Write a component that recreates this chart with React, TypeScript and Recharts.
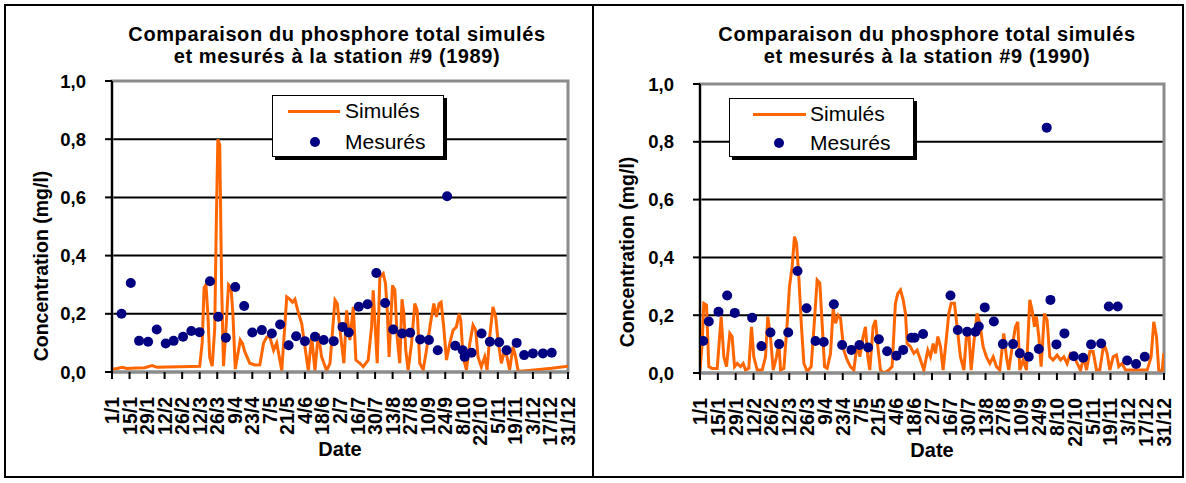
import { ComposedChart, Line, Scatter, XAxis, YAxis, CartesianGrid, ReferenceArea } from 'recharts';

// day-of-year ticks every 14 days, labels as printed on the axis
const TICK_DAYS = [1, 15, 29, 43, 57, 71, 85, 99, 113, 127, 141, 155, 169, 183, 197, 211, 225, 239, 253, 267, 281, 295, 309, 323, 337, 351, 365];
const TICK_LABELS = ['1/1', '15/1', '29/1', '12/2', '26/2', '12/3', '26/3', '9/4', '23/4', '7/5', '21/5', '4/6', '18/6', '2/7', '16/7', '30/7', '13/8', '27/8', '10/9', '24/9', '8/10', '22/10', '5/11', '19/11', '3/12', '17/12', '31/12'];
const Y_TICKS = [0, 0.2, 0.4, 0.6, 0.8, 1];

// 1989 - simulated (line)
const SIM_1989_DAYS = [1, 5, 9, 13, 20, 27, 33, 37, 45, 55, 65, 71, 73, 74.5, 76, 77.5, 79, 81, 83, 84.3, 85.5, 87, 88.5, 90, 92, 94, 96, 97.5, 99.4, 101, 103.4, 105, 107, 111, 115, 119, 122, 124.5, 127, 130, 132.5, 136.5, 140.5, 143, 145, 147, 150, 152.4, 155, 157.7, 160.4, 163, 165.7, 168.3, 172.3, 175, 179, 180.8, 183, 186.1, 188.3, 190.9, 193.6, 195.7, 198.9, 201.5, 205.5, 208.2, 209.5, 210.8, 212.7, 214.8, 217.5, 219.3, 220.7, 222.2, 224.9, 226.8, 228.6, 230.7, 232.5, 234, 235.5, 237.4, 240.1, 242.7, 244.6, 246.7, 249.4, 252, 255.2, 257.9, 260, 262.1, 263.7, 265.8, 268, 270.6, 273.3, 275.9, 278.1, 279.4, 281.2, 283.9, 286.6, 289.2, 291.3, 293.2, 295.8, 298.5, 300.4, 302.5, 305.1, 307.3, 309.1, 311.8, 314.4, 316.3, 318.4, 321.1, 323.2, 325.1, 327, 340, 352, 365];
const SIM_1989_VALUES = [0.01, 0.012, 0.016, 0.012, 0.014, 0.015, 0.022, 0.016, 0.017, 0.018, 0.019, 0.02, 0.1, 0.29, 0.3, 0.2, 0.05, 0.02, 0.15, 0.52, 0.8, 0.78, 0.3, 0.02, 0.15, 0.3, 0.29, 0.2, 0.01, 0.05, 0.11, 0.1, 0.07, 0.03, 0.024, 0.025, 0.1, 0.12, 0.12, 0.075, 0.1, 0.005, 0.258, 0.25, 0.24, 0.25, 0.2, 0.167, 0.087, 0.005, 0.121, 0.005, 0.132, 0.052, 0.005, 0.03, 0.247, 0.235, 0.144, 0.03, 0.212, 0.11, 0.224, 0.041, 0.03, 0.018, 0.041, 0.155, 0.281, 0.178, 0.03, 0.326, 0.338, 0.304, 0.212, 0.052, 0.298, 0.281, 0.121, 0.03, 0.25, 0.2, 0.075, 0.007, 0.098, 0.235, 0.212, 0.03, 0.007, 0.075, 0.167, 0.235, 0.189, 0.235, 0.24, 0.155, 0.041, 0.098, 0.144, 0.155, 0.2, 0.178, 0.052, 0.007, 0.098, 0.161, 0.144, 0.052, 0.018, 0.052, 0.007, 0.121, 0.224, 0.189, 0.11, 0.03, 0.075, 0.052, 0.007, 0.087, 0.052, 0.005, 0.003, 0.008, 0.013, 0.02];

// 1989 - measured (points)
const MES_1989_DAYS = [8.6, 16, 22.6, 29.8, 36.7, 43.9, 50.2, 57.7, 64.3, 70.9, 79.2, 85.8, 91.9, 99.4, 106.5, 113, 120.6, 128.6, 135.2, 142, 148, 155, 163, 170, 178, 185, 190, 198, 205, 212, 219, 225.5, 232.6, 239, 247, 254, 261, 268.5, 275, 281, 282.5, 288, 296, 302.6, 310, 316, 324, 330, 337, 345, 352];
const MES_1989_VALUES = [0.2, 0.306, 0.107, 0.104, 0.146, 0.098, 0.107, 0.121, 0.141, 0.137, 0.312, 0.19, 0.118, 0.292, 0.227, 0.136, 0.144, 0.132, 0.163, 0.092, 0.123, 0.106, 0.121, 0.11, 0.106, 0.155, 0.136, 0.224, 0.233, 0.34, 0.237, 0.146, 0.132, 0.135, 0.112, 0.11, 0.075, 0.604, 0.09, 0.075, 0.052, 0.066, 0.132, 0.104, 0.102, 0.075, 0.1, 0.058, 0.064, 0.064, 0.066];

// 1990 - simulated (line)
const SIM_1990_DAYS = [1, 2.7, 4, 6.1, 7.9, 10.5, 14.5, 17.6, 19.7, 21.8, 24.4, 26.2, 28.1, 30.2, 32.8, 34.9, 36.7, 39.3, 41.4, 43.2, 45.9, 49.8, 52.4, 54.2, 56.3, 58.4, 61, 62.9, 64.2, 66.8, 69.4, 71.2, 73.3, 75.1, 76.7, 78.5, 80.6, 82.5, 85.1, 88.2, 90.8, 92.9, 95, 96.8, 98.7, 100.8, 103.4, 105.5, 107.3, 109.4, 111.2, 113.8, 116.4, 119, 121.7, 124.3, 126.4, 129, 130.8, 132.6, 134.2, 136.8, 138.7, 140.5, 142.6, 145.2, 149.1, 151.7, 154.3, 156.2, 158.3, 160.4, 162.2, 163.5, 166.1, 168.7, 171.3, 174, 176.6, 179.7, 181.8, 183.9, 185.7, 187.6, 189.7, 191.7, 194.4, 196.2, 198, 200.6, 202.7, 205.3, 208, 210, 211.9, 213.7, 216.3, 218.4, 220.5, 223.1, 225.7, 228.4, 231, 233.6, 236.2, 239.3, 241.4, 243.2, 245.9, 248.5, 250.3, 251.9, 254.5, 257.1, 259.7, 261.5, 263.4, 264.9, 266.8, 268.6, 271.2, 273.3, 275.4, 278, 281.2, 283.8, 286.4, 289, 291.6, 294.2, 296.9, 299.5, 302.1, 304.2, 306.8, 309.4, 312, 314.6, 317.8, 320.4, 322.5, 325.1, 327.7, 329.5, 332.1, 334.8, 341, 346.5, 351.8, 354.9, 357, 359.1, 360.9, 363.5, 364.8];
const SIM_1990_VALUES = [0.01, 0.102, 0.241, 0.235, 0.022, 0.016, 0.016, 0.195, 0.056, 0.022, 0.137, 0.126, 0.022, 0.033, 0.022, 0.033, 0.01, 0.016, 0.16, 0.056, 0.01, 0.01, 0.056, 0.195, 0.126, 0.01, 0.056, 0.102, 0.01, 0.016, 0.172, 0.299, 0.368, 0.472, 0.449, 0.334, 0.16, 0.033, 0.005, 0.022, 0.183, 0.322, 0.311, 0.172, 0.022, 0.016, 0.068, 0.224, 0.172, 0.2, 0.19, 0.079, 0.045, 0.022, 0.01, 0.102, 0.056, 0.126, 0.16, 0.056, 0.01, 0.16, 0.183, 0.091, 0.01, 0.0, 0.01, 0.022, 0.241, 0.275, 0.287, 0.253, 0.206, 0.102, 0.091, 0.068, 0.079, 0.045, 0.01, 0.079, 0.056, 0.102, 0.068, 0.126, 0.091, 0.01, 0.126, 0.206, 0.241, 0.241, 0.16, 0.056, 0.01, 0.126, 0.137, 0.01, 0.126, 0.206, 0.172, 0.091, 0.056, 0.033, 0.056, 0.022, 0.01, 0.137, 0.056, 0.01, 0.091, 0.16, 0.177, 0.01, 0.045, 0.01, 0.253, 0.218, 0.16, 0.195, 0.126, 0.022, 0.206, 0.183, 0.056, 0.045, 0.062, 0.045, 0.056, 0.033, 0.068, 0.062, 0.033, 0.01, 0.056, 0.01, 0.074, 0.074, 0.01, 0.01, 0.102, 0.068, 0.01, 0.056, 0.062, 0.022, 0.033, 0.01, 0.01, 0.01, 0.01, 0.056, 0.177, 0.126, 0.01, 0.005, 0.068];

// 1990 - measured (points)
const MES_1990_DAYS = [3.5, 7.9, 15.5, 22.3, 28.3, 41.9, 49.2, 56.3, 63.1, 70.2, 77.5, 84.6, 91.6, 98.1, 106, 112.5, 119.8, 126.1, 132.9, 141.3, 147.8, 155.1, 160.4, 166.9, 169.3, 176, 197.5, 203.2, 210.6, 217.1, 219.7, 224.4, 231.5, 238.6, 246.6, 251.9, 258.9, 266.8, 273, 275.9, 280.6, 286.9, 294.2, 301.6, 307.8, 315.7, 321.7, 328.7, 336.1, 343.1, 349.9];
const MES_1990_VALUES = [0.111, 0.178, 0.212, 0.268, 0.208, 0.191, 0.093, 0.14, 0.1, 0.14, 0.353, 0.224, 0.111, 0.107, 0.238, 0.097, 0.08, 0.097, 0.088, 0.117, 0.075, 0.06, 0.08, 0.122, 0.122, 0.135, 0.268, 0.149, 0.143, 0.143, 0.161, 0.227, 0.178, 0.1, 0.1, 0.068, 0.056, 0.083, 0.849, 0.253, 0.099, 0.137, 0.058, 0.053, 0.099, 0.102, 0.23, 0.23, 0.043, 0.031, 0.056];

const ORANGE = '#ff6600';
const NAVY = '#000080';
const FONT = '"Liberation Sans", Arial, sans-serif';

const toRows = (days: number[], values: number[]) => days.map((d, i) => ({ day: d, value: values[i] }));
const labelOf = (day: number) => TICK_LABELS[TICK_DAYS.indexOf(day)] ?? '';
const comma = (v: number) => v.toFixed(1).replace('.', ',');

function DateTick({ x, y, payload }: any) {
  return (
    <text
      x={x}
      y={y}
      transform={`rotate(-90 ${x} ${y})`}
      textAnchor="end"
      dominantBaseline="central"
      fontFamily={FONT}
      fontWeight="bold"
      fontSize={19.5}
      fill="#000"
    >
      {labelOf(payload.value)}
    </text>
  );
}

function Dot(props: any) {
  const { cx, cy } = props;
  if (cx == null || cy == null) return null;
  return <circle cx={cx} cy={cy} r={5} fill={NAVY} />;
}

interface PanelProps {
  left: number;
  year: string;
  sim: { day: number; value: number }[];
  mes: { day: number; value: number }[];
  yAxisWidth: number;
  marginTop: number;
  marginRight: number;
  xAxisHeight: number;
  yLabelX: number;
  yLabelY: number;
  legend: { left: number; top: number; width: number; height: number; lineX: number; lineW: number; dotX: number; textX: number; row1: number; row2: number };
}

function Panel(p: PanelProps) {
  const lg = p.legend;
  return (
    <div style={{ position: 'absolute', left: p.left, top: 4, width: 589, height: 475 }}>
      <div style={{ position: 'absolute', left: 0, top: 19, width: 666, textAlign: 'center', fontFamily: FONT, fontWeight: 'bold', fontSize: 20, letterSpacing: 0.6, lineHeight: '22px', color: '#000' }}>
        Comparaison du phosphore total simulés<br />et mesurés à la station #9 ({p.year})
      </div>
      <ComposedChart width={589} height={475} margin={{ top: p.marginTop, right: p.marginRight, left: 0, bottom: 0 }}>
        <CartesianGrid horizontal vertical={false} stroke="#000" strokeWidth={2} />
        <XAxis
          dataKey="day"
          type="number"
          domain={[1, 365]}
          ticks={TICK_DAYS}
          interval={0}
          height={p.xAxisHeight}
          tick={<DateTick />}
          tickSize={7}
          tickMargin={18}
          tickLine={{ stroke: '#000', strokeWidth: 2 }}
          axisLine={{ stroke: '#8c8c8c', strokeWidth: 3 }}
          allowDataOverflow
          label={{
            content: ({ viewBox }: any) => (
              <text x={viewBox.x + viewBox.width / 2} y={viewBox.y + 84} textAnchor="middle" fontFamily={FONT} fontWeight="bold" fontSize={20} fill="#000">Date</text>
            ),
          }}
        />
        <YAxis
          type="number"
          domain={[0, 1]}
          ticks={Y_TICKS}
          width={p.yAxisWidth}
          tickFormatter={comma}
          tick={{ fill: '#000', fontFamily: FONT, fontWeight: 'bold', fontSize: 18.5 }}
          tickSize={7}
          tickMargin={19}
          tickLine={{ stroke: '#000', strokeWidth: 2 }}
          axisLine={{ stroke: '#000', strokeWidth: 2 }}
          label={{
            content: () => (
              <text x={p.yLabelX} y={p.yLabelY} transform={`rotate(-90 ${p.yLabelX} ${p.yLabelY})`} textAnchor="middle" dominantBaseline="central" fontFamily={FONT} fontWeight="bold" fontSize={19.5} fill="#000">Concentration (mg/l)</text>
            ),
          }}
        />
        <ReferenceArea x1={1} x2={365} y1={0} y2={1} fill="none" stroke="#8c8c8c" strokeWidth={3} />
        <Line data={p.sim} dataKey="value" name="Simulés" type="linear" stroke={ORANGE} strokeWidth={3} dot={false} isAnimationActive={false} />
        <Scatter data={p.mes} dataKey="value" name="Mesurés" fill={NAVY} shape={<Dot />} isAnimationActive={false} />
      </ComposedChart>
      <div style={{ position: 'absolute', left: lg.left, top: lg.top, width: lg.width, height: lg.height, border: '1px solid #000', background: '#fff', boxShadow: '3px 3px 0 #000', boxSizing: 'border-box', fontFamily: FONT, fontSize: 21, color: '#000' }}>
        <div style={{ position: 'absolute', left: lg.lineX, top: lg.row1 - 1.5, width: lg.lineW, height: 3, background: ORANGE }} />
        <div style={{ position: 'absolute', left: lg.textX, top: lg.row1 - 12, lineHeight: '24px' }}>Simulés</div>
        <div style={{ position: 'absolute', left: lg.dotX - 5, top: lg.row2 - 5, width: 10, height: 10, borderRadius: 5, background: NAVY }} />
        <div style={{ position: 'absolute', left: lg.textX, top: lg.row2 - 12, lineHeight: '24px' }}>Mesurés</div>
      </div>
    </div>
  );
}

export default function App() {
  return (
    <div style={{ position: 'absolute', left: 0, top: 0, width: 1186, height: 483, background: '#fff', overflow: 'hidden' }}>
      <div style={{ position: 'absolute', left: 4, top: 4, width: 1180, height: 474, border: '2px solid #000', boxSizing: 'border-box' }} />
      <div style={{ position: 'absolute', left: 592, top: 4, width: 2, height: 474, background: '#000' }} />
      <Panel
        left={4}
        year="1989"
        sim={toRows(SIM_1989_DAYS, SIM_1989_VALUES)}
        mes={toRows(MES_1989_DAYS, MES_1989_VALUES)}
        yAxisWidth={108}
        marginTop={77}
        marginRight={25}
        xAxisHeight={107}
        yLabelX={37}
        yLabelY={262}
        legend={{ left: 268, top: 91, width: 172, height: 62, lineX: 15, lineW: 52, dotX: 42, textX: 72, row1: 15, row2: 46 }}
      />
      <Panel
        left={594}
        year="1990"
        sim={toRows(SIM_1990_DAYS, SIM_1990_VALUES)}
        mes={toRows(MES_1990_DAYS, MES_1990_VALUES)}
        yAxisWidth={106}
        marginTop={80}
        marginRight={19}
        xAxisHeight={106}
        yLabelX={33}
        yLabelY={248}
        legend={{ left: 135, top: 94, width: 185, height: 59, lineX: 23, lineW: 53, dotX: 49, textX: 80, row1: 15, row2: 44 }}
      />
    </div>
  );
}
